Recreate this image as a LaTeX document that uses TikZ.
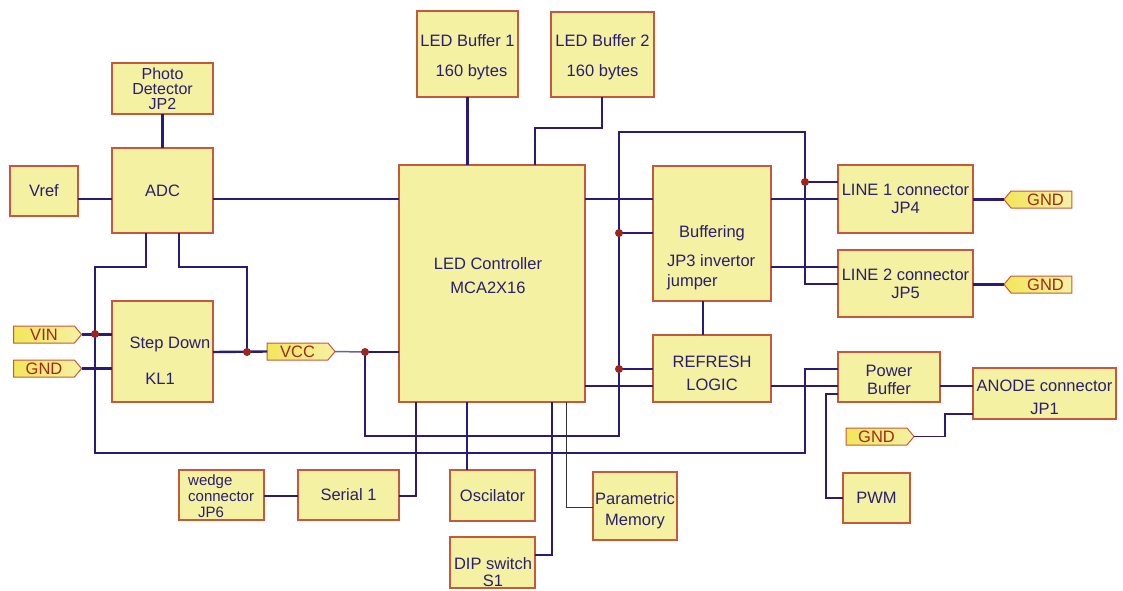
\documentclass[tikz,border=0pt]{standalone}
\usepackage{fontspec}
\setmainfont{Liberation Sans}
\usetikzlibrary{calc,shapes.symbols}
\definecolor{blkFill}{RGB}{245,241,163}
\definecolor{blkEdge}{RGB}{200,88,60}
\definecolor{txtNavy}{RGB}{42,30,112}
\definecolor{wireBlue}{RGB}{40,28,120}
\definecolor{dotRed}{RGB}{158,36,30}
\definecolor{tagYellow}{RGB}{242,230,90}
\definecolor{tagRed}{RGB}{160,40,30}

\begin{document}
\begin{tikzpicture}[x=1pt,y=-1pt,
    blk/.style={draw=blkEdge, fill=blkFill, line width=1.2pt, text=txtNavy, inner sep=0pt, outer sep=0pt,
        align=center, font=\fontsize{16.5}{18}\selectfont},
    txt/.style={text=txtNavy, inner sep=0pt, align=center, font=\fontsize{16.5}{18}\selectfont},
    tagR/.style={signal, signal to=east, signal pointer angle=100, draw=blkEdge, left color=tagYellow, right color=blkFill,
        text=tagRed, minimum width=68pt, minimum height=17pt, inner sep=0pt, outer sep=0pt, line width=1pt,
        font=\fontsize{16.5}{18}\selectfont},
    tagL/.style={tagR, signal to=west},
    wire/.style={wireBlue, line width=2.4pt},
    thinwire/.style={wireBlue, line width=1.5pt},
    jdot/.style={circle, fill=dotRed, inner sep=0pt, minimum size=8pt}]
    \useasboundingbox (0,0) rectangle (1123,590);

    % blocks
    \node[blk, minimum width=101pt, minimum height=51pt, font=\fontsize{16}{15}\selectfont] (pd) at (162.5,88.5) {Photo\\Detector\\JP2};
    \node[blk, minimum width=101pt, minimum height=85pt] (adc) at (162.5,190.5) {ADC};
    \node[blk, minimum width=68pt, minimum height=50pt] (vref) at (44,191) {Vref};
    \node[blk, minimum width=101pt, minimum height=101pt] (stepdn) at (162.5,351.5) {};
    \node[blk, minimum width=101pt, minimum height=86pt,
        label={[txt, yshift=-3pt]center:LED Buffer 1\\[12pt]\hspace{8pt}160 bytes}] (lb1) at (467.5,54) {};
    \node[blk, minimum width=103pt, minimum height=85pt,
        label={[txt, yshift=-3pt]center:LED Buffer 2\\[12pt]160 bytes}] (lb2) at (602.5,54.5) {};
    \node[blk, minimum width=186pt, minimum height=237pt] (ctrl) at (492,283.5) {};
    \node[blk, minimum width=118pt, minimum height=135pt] (buf) at (712,233.5) {};
    \node[blk, minimum width=135pt, minimum height=68pt] (line1) at (905.5,199) {LINE 1 connector\\JP4};
    \node[blk, minimum width=135pt, minimum height=67pt] (line2) at (905.5,283.5) {LINE 2 connector\\JP5};
    \node[blk, minimum width=118pt, minimum height=67pt,
        label={[txt, yshift=-5pt]center:REFRESH\\[5pt]LOGIC}] (refresh) at (712,368.5) {};
    \node[blk, minimum width=102pt, minimum height=50pt,
        label={[txt, yshift=-3pt]center:Power\\Buffer}] (pbuf) at (889,377) {};
    \node[blk, minimum width=143pt, minimum height=51pt,
        label={[txt, yshift=-4pt]center:ANODE connector\\[5pt]JP1}] (anode) at (1044.5,393.5) {};
    \node[blk, minimum width=67pt, minimum height=50pt] (pwm) at (876.5,498) {PWM};
    \node[blk, minimum width=85pt, minimum height=50pt] (wedge) at (221.5,495) {};
    \node[blk, minimum width=101pt, minimum height=50pt] (serial) at (348.5,495) {Serial 1};
    \node[blk, minimum width=85pt, minimum height=51pt] (osc) at (492.5,495.5) {Oscilator};
    \node[blk, minimum width=85pt, minimum height=51pt] (dip) at (492.5,562.5) {};
    \node[blk, minimum width=84pt, minimum height=68pt,
        label={[txt, yshift=-5pt]center:Parametric\\[3pt]Memory}] (pmem) at (635,506) {};

    % texts set off centre
    \node[txt] (stepdntxt) at (170,344.5) {Step Down};
    \node[txt] (kltxt) at (160,379) {KL1};
    \node[txt] (ctrltxt) at (488,276) {LED Controller\\[6pt]MCA2X16};
    \node[txt] (buftxt) at (712,233.5) {Buffering};
    \node[txt, anchor=west, align=left] (jptxt) at (667,272) {JP3 invertor\\[2pt]jumper};
    \node[txt, anchor=west, align=left, font=\fontsize{15}{16}\selectfont] (wedgetxt) at (188,496.5) {wedge\\connector\\\hspace{10pt}JP6};
    \node[txt, font=\fontsize{16.5}{17}\selectfont] (diptxt) at (493,572) {DIP switch\\S1};

    % net labels
    \node[tagR] (vin) at (44,334.5) {VIN};
    \node[tagR] (gndl) at (44,368.5) {GND};
    \node[tagR] (vcc) at (297.5,351.5) {VCC};
    \node[tagL] (gnd1) at (1041.5,199.5) {\hspace{8pt}GND};
    \node[tagL] (gnd2) at (1041.5,284.5) {\hspace{8pt}GND};
    \node[tagR] (gnd3) at (876.5,436.5) {GND};

    % junctions
    \coordinate (j1) at (95,334);
    \coordinate (j2) at (247,352);
    \coordinate (j3) at (365,352);
    \coordinate (j4) at (619,233);
    \coordinate (j5) at (619,369);
    \coordinate (j6) at (805,182);

    % wires
    \draw[wire] (pd.south) -- (adc.north);
    \draw[wire] (vref.east |- 0,199) -- (adc.west |- 0,199);
    \draw[wire] (adc.east |- 0,199) -- (ctrl.west |- 0,199);
    \draw[thinwire] (adc.south -| 146,0) -- (146,267) -- (95,267) -- (95,453) -- (805,453) -- (805,369) -- (pbuf.west |- 0,369);
    \draw[wire] (adc.south -| 179,0) -- (179,267) -- (247,267) -- (j2);
    \draw[wire] (vin.east) -- (stepdn.west |- vin.east);
    \draw[wire] (gndl.east) -- (stepdn.west |- gndl.east);
    \draw[wire] (stepdn.east |- j2) -- (vcc.west);
    \draw[thinwire, wireBlue!70] (vcc.east) -- (j3);
    \draw[wire] (j3) -- (ctrl.west |- j3);
    \draw[thinwire] (j3) -- (365,436) -- (619,436) -- (619,132) -- (805,132) -- (805,284) -- (line2.west |- 0,284);
    \draw[wire] (j4) -- (buf.west |- j4);
    \draw[wire] (j5) -- (refresh.west |- j5);
    \draw[wire] (j6) -- (line1.west |- j6);
    \draw[wire] (lb1.south) -- (lb1.south |- ctrl.north);
    \draw[thinwire, line width=1.2pt] (lb2.south -| 602,0) -- (602,128) -- (535,128) -- (ctrl.north -| 535,0);
    \draw[wire] (ctrl.east |- 0,199) -- (buf.west |- 0,199);
    \draw[wire] (buf.east |- 0,199) -- (line1.west |- 0,199);
    \draw[wire] (buf.east |- 0,267) -- (line2.west |- 0,267);
    \draw[wire] (buf.south -| 703,0) -- (refresh.north -| 703,0);
    \draw[wire] (ctrl.east |- 0,386) -- (refresh.west |- 0,386);
    \draw[wire] (refresh.east |- 0,386) -- (pbuf.west |- 0,386);
    \draw[wire] (pbuf.east |- 0,386) -- (anode.west |- 0,386);
    \draw[thinwire] (gnd3.east) -- (945,436.5) -- (945,414) -- (anode.west |- 0,414);
    \draw[wire] (pbuf.west |- 0,394) -- (826,394) -- (826,498) -- (pwm.west |- 0,498);
    \draw[wire] (line1.east |- gnd1.west) -- (gnd1.west);
    \draw[wire] (line2.east |- gnd2.west) -- (gnd2.west);
    \draw[thinwire] (ctrl.south -| 416,0) -- (416,496) -- (serial.east |- 0,496);
    \draw[wire] (wedge.east |- 0,496) -- (serial.west |- 0,496);
    \draw[wire] (ctrl.south -| 467,0) -- (osc.north -| 467,0);
    \draw[thinwire] (ctrl.south -| 552,0) -- (552,555) -- (dip.east |- 0,555);
    \draw[black!80, line width=1pt] (ctrl.south -| 566,0) -- (566,507) -- (pmem.west |- 0,507);

    \foreach \j in {j1,j2,j3,j4,j5,j6}
        \node[jdot] at (\j) {};
\end{tikzpicture}
\end{document}
